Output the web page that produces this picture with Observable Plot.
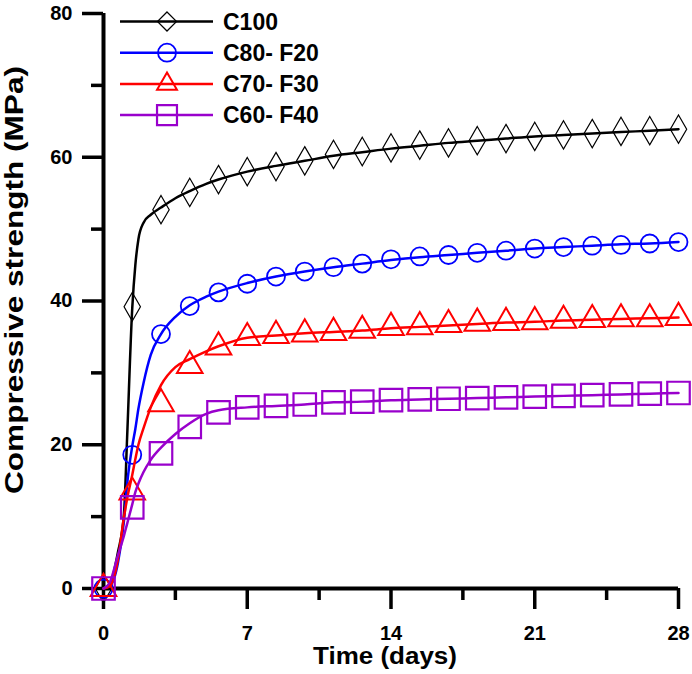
<!DOCTYPE html>
<html>
<head>
<meta charset="utf-8">
<script src="https://cdn.jsdelivr.net/npm/d3@7"></script>
<script src="https://cdn.jsdelivr.net/npm/@observablehq/plot@0.6"></script>
<style>
  body { margin: 0; background: #fff; }
  #chart { position: relative; width: 692px; height: 674px; }
</style>
</head>
<body>
<div id="chart"></div>
<script>
// Marker data (days of measurement)
const days = [0, 1.4, 2.8, 4.2, 5.6, 7, 8.4, 9.8, 11.2, 12.6, 14, 15.4, 16.8, 18.2, 19.6, 21, 22.4, 23.8, 25.2, 26.6, 28];
const c100 = [0, 39.2, 52.7, 55.1, 56.9, 58.0, 58.7, 59.5, 60.4, 60.8, 61.3, 61.7, 62.0, 62.3, 62.6, 62.9, 63.1, 63.3, 63.6, 63.7, 63.9];
const c80f20 = [0, 18.6, 35.4, 39.3, 41.2, 42.4, 43.4, 44.1, 44.7, 45.2, 45.8, 46.2, 46.4, 46.7, 47.0, 47.3, 47.5, 47.7, 47.8, 48.0, 48.2];
const c70f30 = [0, 13.4, 25.7, 31.0, 33.6, 34.9, 35.2, 35.4, 35.6, 35.9, 36.3, 36.4, 36.7, 36.9, 37.0, 37.1, 37.3, 37.4, 37.5, 37.5, 37.7];
const c60f40 = [0, 11.3, 18.8, 22.5, 24.5, 25.2, 25.4, 25.6, 25.9, 26.0, 26.2, 26.3, 26.4, 26.5, 26.6, 26.7, 26.8, 26.9, 27.0, 27.1, 27.2];

// Fitted curves
const lineDays = [0, 0.3, 0.7, 1.0, 1.15, 1.4, 1.55, 1.7, 1.95, 2.3, 2.8, 3.5, 4.2, 5.0, 5.6, 7, 8.4, 9.8, 11.2, 12.6, 14, 15.4, 16.8, 18.2, 19.6, 21, 22.4, 23.8, 25.2, 26.6, 28];
const c100Fit = [0, 0.5, 5, 10.5, 21, 39, 45, 48.6, 50.9, 52.0, 53.0, 54.3, 55.3, 56.3, 56.9, 58.0, 58.8, 59.5, 60.2, 60.7, 61.2, 61.6, 62.0, 62.3, 62.6, 62.9, 63.1, 63.3, 63.5, 63.7, 63.9];
const c80f20Fit = [0, 0.3, 3.5, 9.5, 14.5, 19.8, 22.2, 25, 28.6, 32.5, 35.4, 37.8, 39.4, 40.6, 41.3, 42.5, 43.4, 44.1, 44.7, 45.2, 45.7, 46.1, 46.4, 46.7, 47.0, 47.3, 47.5, 47.7, 47.9, 48.0, 48.2];
const c70f30Fit = [0, 0.3, 4, 10, 12.5, 15.8, 18, 20, 22.3, 25.2, 28.3, 30.8, 31.9, 33.0, 33.7, 34.9, 35.2, 35.5, 35.7, 35.9, 36.2, 36.4, 36.6, 36.8, 37.0, 37.1, 37.3, 37.4, 37.5, 37.6, 37.7];
const c60f40Fit = [0, 0.8, 4.6, 7.4, 9, 11.7, 13.4, 14.6, 16.2, 17.9, 19.6, 21.5, 23.0, 24.3, 24.8, 25.2, 25.4, 25.6, 25.9, 26.0, 26.2, 26.3, 26.4, 26.5, 26.6, 26.7, 26.8, 26.9, 27.0, 27.1, 27.2];

const seriesNames = ["C100", "C80- F20", "C70- F30", "C60- F40"];
const seriesColors = ["#000000", "#0000ff", "#ff0000", "#9900cc"];
const seriesSymbols = ["diamond", "circle", "triangle", "square"];
const markerValues = [c100, c80f20, c70f30, c60f40];
const fitValues = [c100Fit, c80f20Fit, c70f30Fit, c60f40Fit];

const xTicks = [0, 7, 14, 21, 28];
const xMinorTicks = [3.5, 10.5, 17.5, 24.5];
const yTicks = [0, 20, 40, 60, 80];
const yMinorTicks = [10, 30, 50, 70];

const xTitle = "Time (days)";
const yTitle = "Compressive strength (MPa)";

// styles
const FONT = "'Liberation Sans', Arial, sans-serif";
const markerR = {diamond: 8.6, circle: 9, triangle: 9.5, square: 12.7};
const markerSW = {diamond: 1.2, circle: 1.8, triangle: 2, square: 2.2};
const d3Sym = {diamond: d3.symbolDiamond2, circle: d3.symbolCircle, triangle: d3.symbolTriangle2, square: d3.symbolSquare2};

const seriesMarks = [];
seriesNames.forEach((name, s) => {
  const fit = lineDays.map((d, i) => ({day: d, value: fitValues[s][i]}));
  const pts = days.map((d, i) => ({day: d, value: markerValues[s][i]}));
  seriesMarks.push(Plot.line(fit, {x: "day", y: "value", stroke: seriesColors[s], strokeWidth: 2.5, curve: "monotone-x"}));
  seriesMarks.push(Plot.dot(pts, {x: "day", y: "value", symbol: seriesSymbols[s], r: markerR[seriesSymbols[s]],
    stroke: seriesColors[s], fill: "none", strokeWidth: markerSW[seriesSymbols[s]]}));
});

const chart = Plot.plot({
  width: 692,
  height: 674,
  marginLeft: 103,
  marginRight: 14,
  marginTop: 13,
  marginBottom: 86,
  style: {fontFamily: FONT, fontSize: "20px", fontWeight: "bold", color: "#000", background: "#fff"},
  x: {domain: [0, 28]},
  y: {domain: [0, 80]},
  marks: [
    Plot.axisX(xTicks, {tickSize: 21, tickPadding: 16, strokeWidth: 3.5, label: null, fontSize: 20, fontWeight: "bold"}),
    Plot.axisX(xMinorTicks, {tickSize: 12, strokeWidth: 3.5, label: null, tickFormat: () => ""}),
    Plot.axisY(yTicks, {tickSize: 21, tickPadding: 10, strokeWidth: 3.5, label: null, fontSize: 20, fontWeight: "bold"}),
    Plot.axisY(yMinorTicks, {tickSize: 12, strokeWidth: 3.5, label: null, tickFormat: () => ""}),
    Plot.ruleY([0], {strokeWidth: 4}),
    Plot.ruleX([0], {strokeWidth: 4}),
    ...seriesMarks
  ]
});

document.getElementById("chart").appendChild(chart);
const svg = d3.select(chart);

// Axis titles (stretched to match the reference widths)
function stretchedText(text, size, cx, cy, rotate, targetLen) {
  const t = svg.append("text")
    .attr("font-family", FONT).attr("font-size", size).attr("font-weight", "bold")
    .attr("fill", "#000").attr("text-anchor", "middle").attr("dy", "0.36em")
    .text(text);
  const natural = t.node().getComputedTextLength();
  const sx = targetLen / natural;
  t.attr("transform", `translate(${cx},${cy}) rotate(${rotate}) scale(${sx},1)`);
  return t;
}
stretchedText(xTitle, 23, 385, 656, 0, 144);
stretchedText(yTitle, 25, 14, 280, -90, 428);

// Legend
const legend = svg.append("g").attr("class", "legend");
const rowY0 = 21.5, rowStep = 31.2;
seriesNames.forEach((name, s) => {
  const y = rowY0 + s * rowStep;
  const sym = seriesSymbols[s];
  legend.append("line").attr("x1", 120).attr("x2", 213).attr("y1", y).attr("y2", y)
    .attr("stroke", seriesColors[s]).attr("stroke-width", 2.5);
  legend.append("path").attr("transform", `translate(167,${y})`)
    .attr("d", d3.symbol(d3Sym[sym], Math.PI * markerR[sym] * markerR[sym])())
    .attr("fill", "none").attr("stroke", seriesColors[s]).attr("stroke-width", markerSW[sym]);
  legend.append("text").attr("x", 223).attr("y", y).attr("dy", "0.36em")
    .attr("text-anchor", "start")
    .attr("font-family", FONT).attr("font-size", 23).attr("font-weight", "bold").attr("fill", "#000").text(name);
});
</script>
</body>
</html>
